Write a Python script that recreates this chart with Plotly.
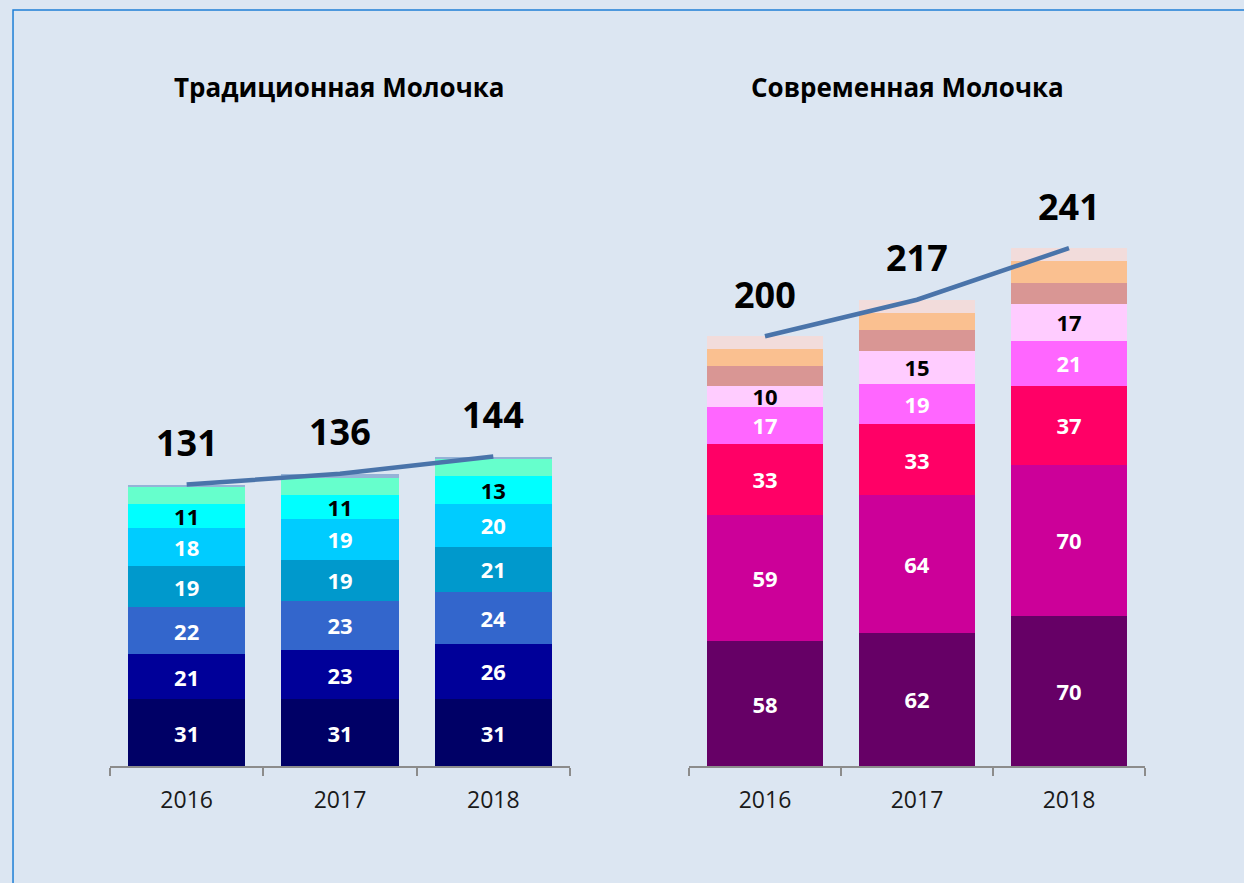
import plotly.graph_objects as go
from plotly.subplots import make_subplots

years = ["2016", "2017", "2018"]

# Традиционная Молочка segments (bottom -> top)
trad_s1 = [31, 31, 31]
trad_s2 = [21, 23, 26]
trad_s3 = [22, 23, 24]
trad_s4 = [19, 19, 21]
trad_s5 = [18, 19, 20]
trad_s6 = [11, 11, 13]
trad_s7 = [8, 8, 8]
trad_s8 = [1, 2, 1]
trad_totals = [131, 136, 144]

# Современная Молочка segments (bottom -> top)
mod_s1 = [58, 62, 70]
mod_s2 = [59, 64, 70]
mod_s3 = [33, 33, 37]
mod_s4 = [17, 19, 21]
mod_s5 = [10, 15, 17]
mod_s6 = [9, 10, 10]
mod_s7 = [8, 8, 10]
mod_s8 = [6, 6, 6]
mod_totals = [200, 217, 241]

trad_series = [trad_s1, trad_s2, trad_s3, trad_s4, trad_s5, trad_s6, trad_s7, trad_s8]
trad_colors = ["#000066", "#000099", "#3366CC", "#0099CC", "#00CCFF", "#00FFFF", "#66FFCC", "#95B3D7"]
trad_textcol = ["white", "white", "white", "white", "white", "black", "black", "black"]
trad_show = [True, True, True, True, True, True, False, False]

mod_series = [mod_s1, mod_s2, mod_s3, mod_s4, mod_s5, mod_s6, mod_s7, mod_s8]
mod_colors = ["#660066", "#CC0099", "#FF0066", "#FF66FF", "#FFCCFF", "#D99694", "#FAC090", "#F2DCDB"]
mod_textcol = ["white", "white", "white", "white", "black", "black", "black", "black"]
mod_show = [True, True, True, True, True, False, False, False]

titles = ["Традиционная Молочка", "Современная Молочка"]

BG = "#DCE6F2"
FONT = "Open Sans"
LINE_COL = "#4A74AA"

fig = make_subplots(rows=1, cols=2)


def add_group(series, colors, textcols, shows, totals, col):
    for vals, c, tc, show in zip(series, colors, textcols, shows):
        fig.add_trace(
            go.Bar(
                x=years, y=vals,
                marker=dict(color=c, line=dict(width=0)),
                text=[str(v) for v in vals] if show else None,
                textposition="inside" if show else "none",
                insidetextanchor="middle",
                textangle=0,
                constraintext="none",
                textfont=dict(family=FONT, size=22, color=tc, weight="bold"),
                hoverinfo="skip",
                showlegend=False,
            ),
            row=1, col=col,
        )
    fig.add_trace(
        go.Scatter(
            x=years, y=totals, mode="lines",
            line=dict(color=LINE_COL, width=4.5),
            hoverinfo="skip", showlegend=False,
        ),
        row=1, col=col,
    )
    xref = "x" if col == 1 else "x2"
    yref = "y" if col == 1 else "y2"
    for i, t in enumerate(totals):
        fig.add_annotation(
            x=i, y=t, xref=xref, yref=yref, text=str(t), showarrow=False,
            xanchor="center", yanchor="middle",
            yshift=42, font=dict(family=FONT, size=36, color="black", weight="bold"),
        )


add_group(trad_series, trad_colors, trad_textcol, trad_show, trad_totals, 1)
add_group(mod_series, mod_colors, mod_textcol, mod_show, mod_totals, 2)

axis_x = dict(
    type="category", showgrid=False, zeroline=False,
    showline=True, linecolor="#8C8C8C", linewidth=1.5,
    ticks="outside", tickson="boundaries", ticklen=8, tickcolor="#8C8C8C", tickwidth=1.5,
    tickfont=dict(family=FONT, size=23, color="#1A1A1A"),
    ticklabelstandoff=13,
    range=[-0.5, 2.5],
)
axis_y = dict(visible=False, range=[0, 296], showgrid=False, zeroline=False)

fig.update_layout(
    width=1244, height=883,
    margin=dict(l=110, r=99, t=130, b=117),
    barmode="stack", bargap=0.235,
    paper_bgcolor=BG, plot_bgcolor=BG,
    font=dict(family=FONT),
    xaxis=dict(axis_x, domain=[0, 0.4444]),
    xaxis2=dict(axis_x, domain=[0.5594, 1.0]),
    yaxis=axis_y, yaxis2=axis_y,
)

# titles
fig.add_annotation(x=0.2222, y=1.0676, xref="paper", yref="paper", text=titles[0],
                   xanchor="center", yanchor="middle",
                   showarrow=False, font=dict(family=FONT, size=26, color="black", weight="bold"))
fig.add_annotation(x=0.771, y=1.0676, xref="paper", yref="paper", text=titles[1],
                   xanchor="center", yanchor="middle",
                   showarrow=False, font=dict(family=FONT, size=26, color="black", weight="bold"))

# frame border
fig.add_shape(type="rect", xref="paper", yref="paper",
              x0=-0.0937, y0=-0.3, x1=1.2, y1=1.1887,
              line=dict(color="#1E7FD6", width=1.5), fillcolor="rgba(0,0,0,0)", layer="below")

fig.write_html("out.html", config={"displayModeBar": False},
               post_script="document.body.style.margin='0';")
